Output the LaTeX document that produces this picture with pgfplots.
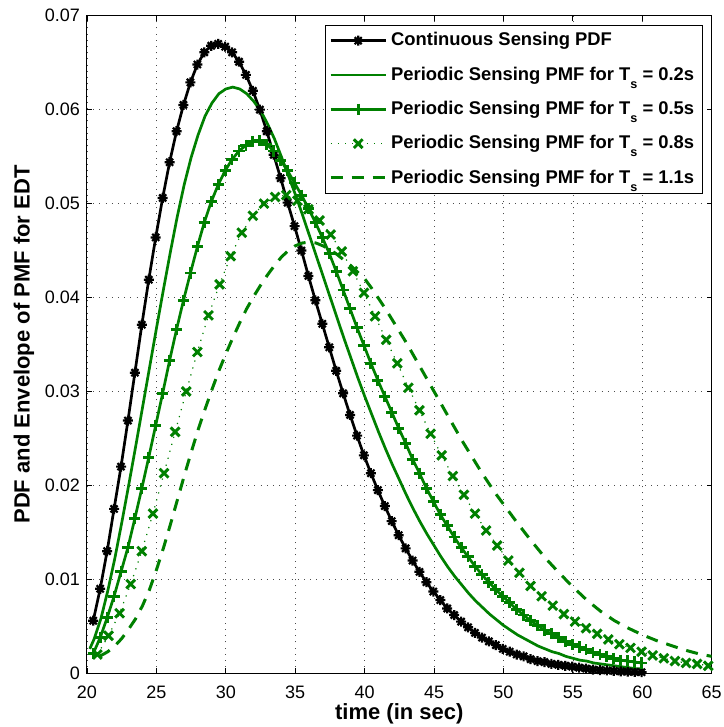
\documentclass[border=0pt]{standalone}
\usepackage{pgfplots}
\pgfplotsset{compat=1.18}
\usepackage{fontspec}
\setmainfont{Liberation Sans}
\definecolor{mgreen}{rgb}{0,0.5,0}
\pgfdeclareplotmark{mstar}{%
 \pgfpathmoveto{\pgfqpoint{-\pgfplotmarksize}{0pt}}\pgfpathlineto{\pgfqpoint{\pgfplotmarksize}{0pt}}%
 \pgfpathmoveto{\pgfqpoint{0pt}{-\pgfplotmarksize}}\pgfpathlineto{\pgfqpoint{0pt}{\pgfplotmarksize}}%
 \pgfpathmoveto{\pgfqpoint{-0.707\pgfplotmarksize}{-0.707\pgfplotmarksize}}\pgfpathlineto{\pgfqpoint{0.707\pgfplotmarksize}{0.707\pgfplotmarksize}}%
 \pgfpathmoveto{\pgfqpoint{-0.707\pgfplotmarksize}{0.707\pgfplotmarksize}}\pgfpathlineto{\pgfqpoint{0.707\pgfplotmarksize}{-0.707\pgfplotmarksize}}%
 \pgfusepathqstroke}
\newcommand{\Ts}{T\raisebox{-4pt}{\fontsize{6.3}{7}\selectfont\bfseries s}\rule[-7.25pt]{0pt}{7.25pt}}
\begin{document}
\begin{tikzpicture}
\path[use as bounding box] (-43.5pt,-26.85pt) rectangle (318pt,336.65pt);
\begin{axis}[
 at={(0,0)}, anchor=south west,
 width=312.35pt, height=328.8pt, scale only axis,
 xmin=20, xmax=65, ymin=0, ymax=0.07,
 xtick={20,25,30,35,40,45,50,55,60,65},
 ytick={0,0.01,0.02,0.03,0.04,0.05,0.06,0.07},
 yticklabels={0,0.01,0.02,0.03,0.04,0.05,0.06,0.07},
 /pgf/number format/assume math mode=true,
 tick label style={font=\fontsize{9}{11}\selectfont},
 xticklabel style={yshift=-2.7pt},
 grid=major,
 major grid style={black!70, line width=0.35pt, dash pattern=on 0.5pt off 2.6pt},
 tick align=inside, major tick length=2.5pt,
 every tick/.style={black, line width=0.4pt},
 axis line style={line width=0.5pt},
 xlabel={time (in sec)},
 ylabel={PDF and Envelope of PMF for EDT},
 label style={font=\fontsize{11}{13}\selectfont\bfseries},
 xlabel style={at={(axis description cs:0.5,-0.061)}, anchor=center},
 ylabel style={at={(axis description cs:-0.101,0.5)}, anchor=center},
 legend style={at={(axis description cs:1,1)}, anchor=north east, xshift=-4.5pt, yshift=-4.65pt,
   draw=black, line width=0.5pt, fill=white, font=\fontsize{9.2}{11}\selectfont\bfseries,
   inner xsep=2pt, inner ysep=1.5pt, row sep=5pt},
 legend cell align=left,
 legend image code/.code={\draw[mark repeat=2,mark phase=2] plot coordinates {(0pt,0pt)(13.75pt,0pt)(27.5pt,0pt)};},
]
\addplot[black, line width=1.35pt, mark=mstar, mark size=2.5pt, mark options={solid, line width=1.1pt}] coordinates {
(20.45,0.0056)(20.95,0.0090)(21.45,0.0130)(21.95,0.0175)(22.45,0.0220)(22.95,0.0269)(23.45,0.0320)(23.95,0.0371)
(24.45,0.0419)(24.95,0.0464)(25.45,0.0506)(25.95,0.0544)(26.45,0.0577)(26.95,0.0605)(27.45,0.0629)(27.95,0.0648)
(28.45,0.0661)(28.95,0.0668)(29.45,0.0670)(29.95,0.0667)(30.45,0.0661)(30.95,0.0651)(31.45,0.0637)(31.95,0.0620)
(32.45,0.0600)(32.95,0.0577)(33.45,0.0552)(33.95,0.0527)(34.45,0.0501)(34.95,0.0476)(35.45,0.0450)(35.95,0.0423)
(36.45,0.0397)(36.95,0.0372)(37.45,0.0347)(37.95,0.0322)(38.45,0.0298)(38.95,0.0275)(39.45,0.0253)(39.95,0.0232)
(40.45,0.0213)(40.95,0.0195)(41.45,0.0178)(41.95,0.0162)(42.45,0.0147)(42.95,0.0133)(43.45,0.0120)(43.95,0.0108)
(44.45,0.0097)(44.95,0.0087)(45.45,0.0078)(45.95,0.0069)(46.45,0.0062)(46.95,0.0055)(47.45,0.0049)(47.95,0.0043)
(48.45,0.0038)(48.95,0.0034)(49.45,0.0030)(49.95,0.0026)(50.45,0.0023)(50.95,0.0020)(51.45,0.0018)(51.95,0.0015)
(52.45,0.0013)(52.95,0.0012)(53.45,0.0010)(53.95,0.0009)(54.45,0.0008)(54.95,0.0007)(55.45,0.0006)(55.95,0.0005)
(56.45,0.0004)(56.95,0.00035)(57.45,0.0003)(57.95,0.00025)(58.45,0.0002)(58.95,0.00017)(59.45,0.00014)(59.95,0.00012)
};
\addlegendentry{Continuous Sensing PDF}
\addplot[mgreen, line width=1.35pt] coordinates {
(20.2,0.0026)(20.5,0.0036)(21.0,0.0058)(21.5,0.0088)(22.0,0.0122)(22.5,0.0160)(23.0,0.0200)(23.5,0.0241)
(24.0,0.0283)(24.5,0.0325)(25.0,0.0367)(25.5,0.0408)(26.0,0.0448)(26.5,0.0486)(27.0,0.0520)(27.5,0.0549)
(28.0,0.0573)(28.5,0.0593)(29.0,0.0607)(29.5,0.0617)(30.0,0.0622)(30.5,0.0624)(31.0,0.0622)(31.5,0.0617)
(32.0,0.0609)(32.5,0.0599)(33.0,0.0585)(33.5,0.0569)(34.0,0.0550)(34.5,0.0530)(35.0,0.0510)(35.5,0.0489)
(36.0,0.0467)(36.5,0.0445)(37.0,0.0423)(37.5,0.0401)(38.0,0.0379)(38.5,0.0357)(39.0,0.0336)(39.5,0.0315)
(40.0,0.0295)(40.5,0.0276)(41.0,0.0257)(41.5,0.0239)(42.0,0.0222)(42.5,0.0206)(43.0,0.0190)(43.5,0.0175)
(44.0,0.0161)(44.5,0.0148)(45.0,0.0136)(45.5,0.0124)(46.0,0.0113)(46.5,0.0103)(47.0,0.0094)(47.5,0.0085)
(48.0,0.0077)(48.5,0.0070)(49.0,0.0063)(49.5,0.0057)(50.0,0.0051)(50.5,0.0046)(51.0,0.0041)(51.5,0.0037)
(52.0,0.0033)(52.5,0.0029)(53.0,0.0026)(53.5,0.0023)(54.0,0.0021)(54.5,0.0018)(55.0,0.0016)(55.5,0.0014)
(56.0,0.0013)(56.5,0.0011)(57.0,0.0010)(57.5,0.0009)(58.0,0.0008)(58.5,0.0007)(59.0,0.0006)(59.5,0.0005)(60.0,0.0005)
};
\addlegendentry{Periodic Sensing PMF for \Ts{} = 0.2s}
\addplot[mgreen, line width=1.35pt, mark=+, mark size=2.8pt, mark options={solid, line width=1.4pt}] coordinates {
(20.45,0.0021)(20.95,0.0038)(21.45,0.0059)(21.95,0.0082)(22.45,0.0108)(22.95,0.0134)(23.45,0.0165)(23.95,0.0197)
(24.45,0.0230)(24.95,0.0264)(25.45,0.0298)(25.95,0.0333)(26.45,0.0366)(26.95,0.0397)(27.45,0.0426)(27.95,0.0454)
(28.45,0.0480)(28.95,0.0502)(29.45,0.0520)(29.95,0.0535)(30.45,0.0547)(30.95,0.0556)(31.45,0.0562)(31.95,0.0566)
(32.45,0.0567)(32.95,0.0563)(33.45,0.0556)(33.95,0.0546)(34.45,0.0535)(34.95,0.0522)(35.45,0.0509)(35.95,0.0495)
(36.45,0.0480)(36.95,0.0464)(37.45,0.0447)(37.95,0.0428)(38.45,0.0408)(38.95,0.0388)(39.45,0.0368)(39.95,0.0349)
(40.45,0.0330)(40.95,0.0312)(41.45,0.0295)(41.95,0.0278)(42.45,0.0261)(42.95,0.0245)(43.45,0.0228)(43.95,0.0213)
(44.45,0.0197)(44.95,0.0183)(45.45,0.0169)(45.95,0.0157)(46.45,0.0145)(46.95,0.0134)(47.45,0.0124)(47.95,0.0114)
(48.45,0.0105)(48.95,0.0097)(49.45,0.0089)(49.95,0.0082)(50.45,0.0075)(50.95,0.0068)(51.45,0.0062)(51.95,0.0056)
(52.45,0.0051)(52.95,0.0046)(53.45,0.0042)(53.95,0.0038)(54.45,0.0034)(54.95,0.0031)(55.45,0.0028)(55.95,0.0025)
(56.45,0.0022)(56.95,0.0020)(57.45,0.0018)(57.95,0.0016)(58.45,0.0014)(58.95,0.0013)(59.45,0.0012)(59.95,0.0011)
};
\addlegendentry{Periodic Sensing PMF for \Ts{} = 0.5s}
\addplot[mgreen, line width=0.6pt, dash pattern=on 0.6pt off 3pt, mark=x, mark size=3.1pt, mark options={solid, line width=1.45pt}] coordinates {
(20.75,0.0020)(21.55,0.0040)(22.35,0.0064)(23.15,0.0095)(23.95,0.0130)(24.75,0.0170)(25.55,0.0213)(26.35,0.0257)
(27.15,0.0300)(27.95,0.0342)(28.75,0.0381)(29.55,0.0414)(30.35,0.0444)(31.15,0.0469)(31.95,0.0487)(32.75,0.0500)
(33.55,0.0507)(34.35,0.0509)(35.15,0.0503)(35.95,0.0494)(36.75,0.0482)(37.55,0.0467)(38.35,0.0449)(39.15,0.0428)
(39.95,0.0405)(40.75,0.0380)(41.55,0.0355)(42.35,0.0330)(43.15,0.0304)(43.95,0.0280)(44.75,0.0255)(45.55,0.0232)
(46.35,0.0210)(47.15,0.0190)(47.95,0.0170)(48.75,0.0152)(49.55,0.0136)(50.35,0.0120)(51.15,0.0107)(51.95,0.0093)
(52.75,0.0082)(53.55,0.0072)(54.35,0.0063)(55.15,0.0055)(55.95,0.0048)(56.75,0.0042)(57.55,0.0036)(58.35,0.0031)
(59.15,0.0027)(59.95,0.0023)(60.75,0.0019)(61.55,0.0016)(62.35,0.0013)(63.15,0.0011)(63.95,0.0010)(64.75,0.0008)
};
\addlegendentry{Periodic Sensing PMF for \Ts{} = 0.8s}
\addplot[mgreen, line width=1.5pt, dash pattern=on 6pt off 4.5pt] coordinates {
(20.9,0.0018)(21.5,0.0023)(22.0,0.0029)(22.5,0.0037)(23.0,0.0047)(23.5,0.0058)(24.0,0.0072)(24.5,0.0089)
(25.0,0.0110)(25.5,0.0133)(26.0,0.0158)(26.5,0.0184)(27.0,0.0210)(27.5,0.0235)(28.0,0.0259)(28.5,0.0281)
(29.0,0.0302)(29.5,0.0322)(30.0,0.0340)(30.5,0.0357)(31.0,0.0373)(31.5,0.0388)(32.0,0.0401)(32.5,0.0413)
(33.0,0.0424)(33.5,0.0434)(34.0,0.0443)(34.5,0.0450)(35.0,0.0455)(35.5,0.0458)(36.0,0.0459)(36.5,0.0458)
(37.0,0.0455)(37.5,0.0451)(38.0,0.0446)(38.5,0.0440)(39.0,0.0434)(39.5,0.0427)(40.0,0.0420)(40.5,0.0410)
(41.0,0.0399)(41.5,0.0388)(42.0,0.0376)(42.5,0.0364)(43.0,0.0352)(43.5,0.0339)(44.0,0.0326)(44.5,0.0313)
(45.0,0.0300)(45.5,0.0287)(46.0,0.0274)(46.5,0.0261)(47.0,0.0248)(47.5,0.0236)(48.0,0.0224)(48.5,0.0212)
(49.0,0.0201)(49.5,0.0190)(50.0,0.0180)(51.0,0.0160)(52.0,0.0141)(53.0,0.0123)(54.0,0.0107)(55.0,0.0092)
(56.0,0.0078)(57.0,0.0066)(58.0,0.0056)(59.0,0.0048)(60.0,0.0041)(61.0,0.0035)(62.0,0.0030)(63.0,0.0025)
(64.0,0.0021)(65.0,0.0018)
};
\addlegendentry{Periodic Sensing PMF for \Ts{} = 1.1s}
\end{axis}
\end{tikzpicture}
\end{document}
